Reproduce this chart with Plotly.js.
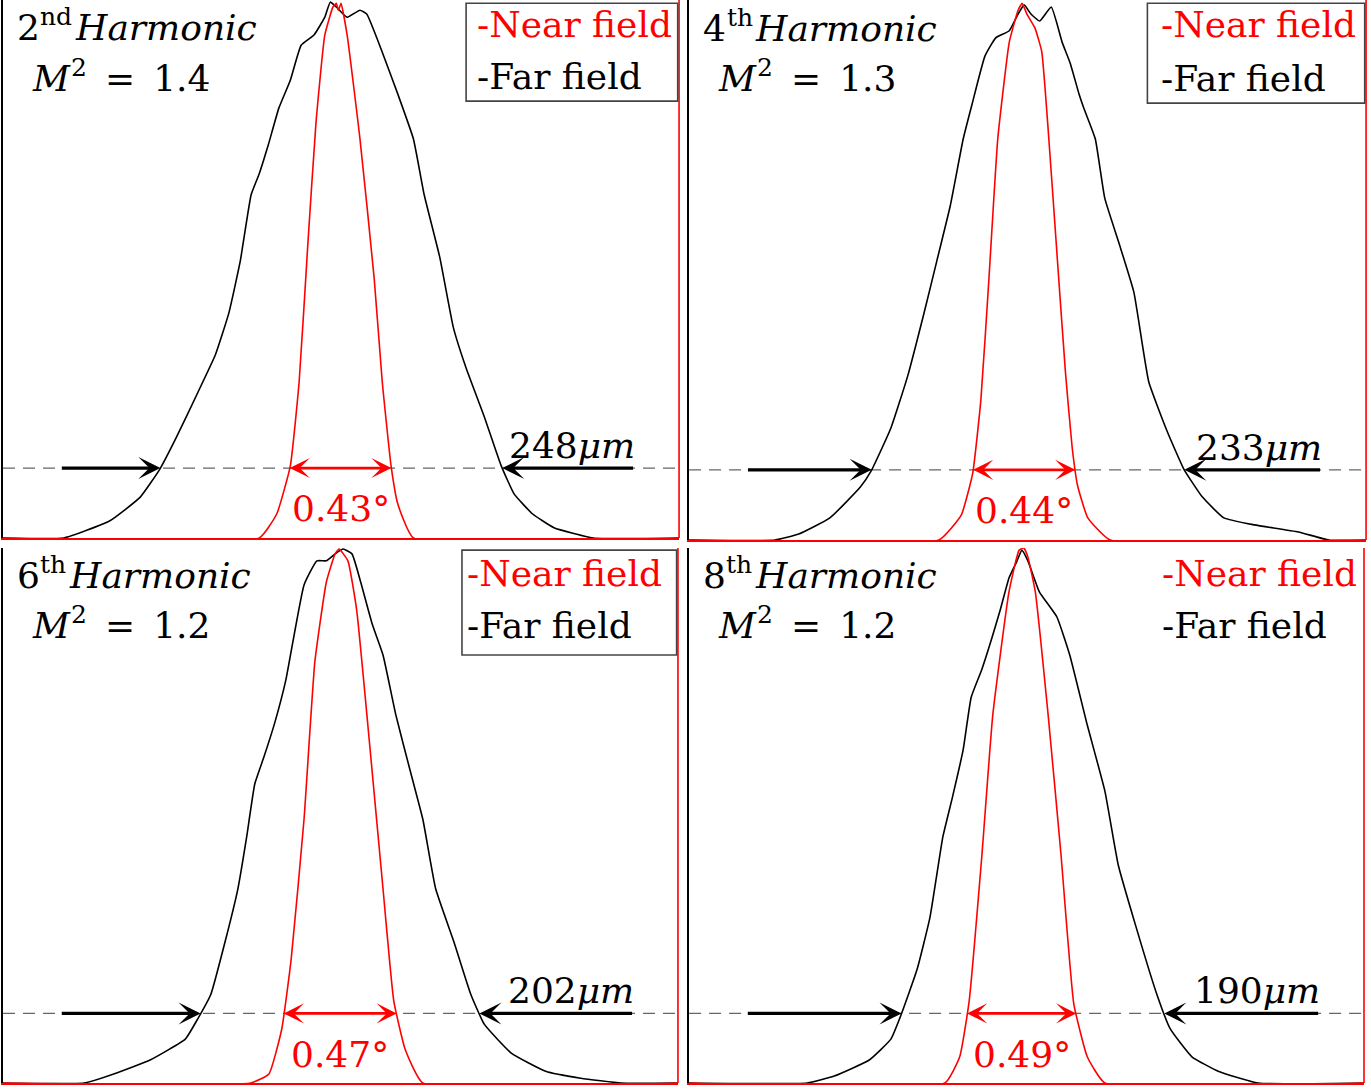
<!DOCTYPE html>
<html><head><meta charset="utf-8">
<script src="https://cdn.plot.ly/plotly-3.0.1.min.js"></script>
<style>html,body{margin:0;padding:0;background:#fff}</style>
</head><body><div id="chart" style="width:1371px;height:1089px"></div>
<script>
// ---- data: x = position across panel (0-100), y = normalised intensity ----
const harmonicNumbers = ['2', '4', '6', '8'];
const harmonicSuffixes = ['nd', 'th', 'th', 'th'];
const m2Values = ['1.4', '1.3', '1.2', '1.2'];
const farWidths = ['248', '233', '202', '190'];
const nearAngles = ['0.43', '0.44', '0.47', '0.49'];
const widthLevel = 0.13;

const far2 = [[0,0],[9.0,0],[15.8,0.032],[20.3,0.076],[23.2,0.128],[25.6,0.186],[28.8,0.270],[31.4,0.340],[33.4,0.418],[35.1,0.515],[36.7,0.638],[37.9,0.677],[39.2,0.729],[40.8,0.799],[42.5,0.851],[44.1,0.916],[46.0,0.935],[47.6,0.968],[48.4,0.996],[49.3,0.987],[50.9,0.968],[52.8,0.981],[53.8,0.974],[56.1,0.903],[58.4,0.825],[60.7,0.742],[62.3,0.638],[64.6,0.522],[66.6,0.392],[68.5,0.316],[71.2,0.225],[73.7,0.134],[75.6,0.082],[78.3,0.045],[81.5,0.019],[87.3,0],[100,0]];
const near2 = [[0,0],[37.9,0],[40.5,0.045],[42.5,0.134],[43.8,0.290],[45.1,0.548],[46.3,0.773],[47.6,0.935],[48.8,0.987],[49.3,0.994],[49.6,0.981],[50.0,0.994],[50.9,0.935],[52.8,0.742],[54.9,0.483],[56.1,0.290],[57.4,0.134],[58.4,0.063],[60.7,0],[100,0]];

const far4 = [[0,0],[12.7,0],[16.2,0.011],[20.8,0.041],[25.3,0.098],[26.9,0.128],[29.8,0.207],[32.3,0.304],[34.7,0.420],[36.6,0.517],[38.6,0.620],[40.5,0.743],[41.8,0.807],[43.7,0.896],[45.3,0.930],[47.3,0.943],[48.6,0.974],[49.5,0.991],[50.5,0.974],[51.8,0.961],[53.5,0.987],[55.1,0.922],[56.3,0.883],[57.6,0.826],[58.3,0.800],[60.0,0.743],[61.4,0.633],[63.5,0.550],[65.7,0.459],[67.9,0.293],[70.6,0.202],[73.1,0.131],[75.8,0.080],[79.0,0.041],[83.5,0.028],[90.0,0.015],[94.5,0],[100,0]];
const near4 = [[0,0],[36.9,0],[40.2,0.046],[41.9,0.124],[43.1,0.259],[44.3,0.485],[45.6,0.743],[47.3,0.922],[48.6,0.981],[49.2,0.994],[49.9,0.974],[51.1,0.948],[52.1,0.904],[53.1,0.750],[54.4,0.520],[55.6,0.310],[56.6,0.170],[57.4,0.100],[58.9,0.041],[62.2,0],[100,0]];

const far6 = [[0,0],[12.0,0],[16.4,0.017],[21.8,0.043],[27.0,0.082],[28.9,0.121],[30.8,0.166],[32.9,0.264],[34.8,0.363],[36.1,0.460],[37.3,0.559],[38.7,0.611],[40.3,0.675],[41.9,0.753],[44.6,0.931],[46.5,0.976],[47.9,0.976],[49.2,0.989],[50.4,0.998],[51.7,0.989],[53.0,0.936],[54.7,0.858],[56.3,0.800],[58.2,0.688],[60.3,0.585],[62.2,0.493],[64.1,0.363],[66.8,0.264],[69.3,0.166],[71.3,0.110],[75.3,0.056],[80.4,0.022],[85.6,0.009],[91.6,0],[100,0]];
const near6 = [[0,0],[36.7,0],[39.4,0.017],[41.3,0.101],[42.7,0.232],[44.6,0.493],[46.2,0.787],[47.9,0.936],[49.2,0.989],[49.8,0.998],[51.1,0.976],[52.4,0.884],[54.4,0.622],[56.3,0.363],[57.9,0.153],[59.6,0.062],[62.2,0],[100,0]];

const far8 = [[0,0],[17.5,0],[21.5,0.013],[26.7,0.043],[29.9,0.082],[31.4,0.127],[33.8,0.213],[35.7,0.310],[37.6,0.460],[39.0,0.533],[40.6,0.622],[41.8,0.721],[43.4,0.774],[46.1,0.884],[47.4,0.944],[48.6,0.976],[49.3,0.996],[50.2,0.976],[51.9,0.918],[54.5,0.871],[56.4,0.800],[59.0,0.669],[61.6,0.546],[63.6,0.407],[66.1,0.297],[69.3,0.166],[71.3,0.101],[74.5,0.049],[78.4,0.022],[84.3,0],[100,0]];
const near8 = [[0,0],[37.9,0],[40.1,0.049],[41.5,0.153],[43.4,0.428],[45.0,0.688],[47.4,0.918],[48.9,0.996],[49.6,1.0],[50.2,0.983],[51.3,0.918],[53.2,0.688],[55.1,0.428],[57.0,0.148],[59.0,0.049],[61.6,0],[100,0]];

const farSeries = [far2, far4, far6, far8];
const nearSeries = [near2, near4, near6, near8];

// ---- layout configuration (positions / styles) ----
const FONT = 'DejaVu Serif';
const FS = 36, FS_SUP = 25, SUP_SHIFT = 11;
const panels = [
  {xd:[0.0022,0.4953], yd:[0.5060,1.0], box:[0.685,0.812,0.998,0.994], lx:70.1, ly:[0.954,0.857]},
  {xd:[0.5026,0.9964], yd:[0.5041,1.0], box:[0.677,0.809,0.998,0.994], lx:69.7, ly:[0.954,0.854]},
  {xd:[0.0022,0.4945], yd:[0.0055,0.4968], box:[0.680,0.800,0.998,0.996], lx:68.7, ly:[0.953,0.856]},
  {xd:[0.5026,0.9949], yd:[0.0055,0.4968], box:null, lx:70.1, ly:[0.953,0.856]}
];

const mctx = document.createElement('canvas').getContext('2d');
function tw(text, size, italic){
  mctx.font = (italic ? 'italic ' : '') + size + 'px "' + FONT + '"';
  return mctx.measureText(text).width;
}

function crossings(pts, lvl){
  let left = null, right = null;
  for (let i = 1; i < pts.length; i++){
    const [x0,y0] = pts[i-1], [x1,y1] = pts[i];
    if (left === null && y0 < lvl && y1 >= lvl) left = x0 + (lvl-y0)/(y1-y0)*(x1-x0);
    if (y0 >= lvl && y1 < lvl) right = x0 + (y0-lvl)/(y0-y1)*(x1-x0);
  }
  return [left, right];
}

const traces = [];
const annotations = [];
const shapes = [];
const layout = {
  width: 1371, height: 1089,
  margin: {l:0, r:0, t:0, b:0},
  paper_bgcolor: '#fff', plot_bgcolor: '#fff',
  showlegend: false,
  font: {family: FONT, size: FS, color: '#000'}
};

panels.forEach((p, i) => {
  const s = i === 0 ? '' : String(i+1);
  const xr = 'x' + s, yr = 'y' + s;
  layout['xaxis' + s] = {domain: p.xd, range: [0,100], anchor: yr, showgrid:false, zeroline:false,
    showticklabels:false, ticks:'', showline:true, linecolor:'#ff0000', linewidth:1.6, fixedrange:true};
  layout['yaxis' + s] = {domain: p.yd, range: [0,1], anchor: xr, showgrid:false, zeroline:false,
    showticklabels:false, ticks:'', showline:true, linecolor:'#000', linewidth:1.6, fixedrange:true};

  const far = farSeries[i], near = nearSeries[i];
  traces.push({type:'scatter', mode:'lines', xaxis:xr, yaxis:yr,
    x: far.map(d=>d[0]), y: far.map(d=>d[1]), line:{color:'#000', width:1.6, shape:'spline', smoothing:0.4},
    cliponaxis:false, hoverinfo:'skip'});
  traces.push({type:'scatter', mode:'lines', xaxis:xr, yaxis:yr,
    x: near.map(d=>d[0]), y: near.map(d=>d[1]), line:{color:'#ff0000', width:1.6, shape:'spline', smoothing:0.4},
    cliponaxis:false, hoverinfo:'skip'});

  const [fL, fR] = crossings(far, widthLevel);
  const [nL, nR] = crossings(near, widthLevel);
  const nMid = (nL + nR) / 2;

  // right red frame line
  shapes.push({type:'line', xref: xr + ' domain', yref: yr + ' domain', x0:1, x1:1, y0:0, y1:1,
    line:{color:'#ff0000', width:1.6}});
  // dashed level line
  shapes.push({type:'line', xref: xr, yref: yr, x0:0, x1:100, y0:widthLevel, y1:widthLevel, layer:'below',
    line:{color:'#666', width:1.3, dash:'12px,8px'}});
  // legend box
  if (p.box){
    shapes.push({type:'rect', xref: xr + ' domain', yref: yr + ' domain',
      x0:p.box[0], y0:p.box[1], x1:p.box[2], y1:p.box[3], line:{color:'#444', width:1.6}, fillcolor:'rgba(0,0,0,0)'});
  }

  const txt = (text, x, y, o) => {
    o = o || {};
    return {text, x, y, xref: xr, yref: yr, xanchor: o.xanchor || 'left', yanchor:'middle',
      xshift: o.dx || 0, yshift: o.dy || 0, showarrow:false, borderpad:0, borderwidth:0,
      font:{family: FONT, size: o.size || FS, color: o.color || '#000', style: o.italic ? 'italic' : 'normal'}};
  };

  // "2nd Harmonic"
  const wNum = tw(harmonicNumbers[i], FS), wSuf = tw(harmonicSuffixes[i], FS_SUP);
  annotations.push(txt(harmonicNumbers[i], 2.0, 0.948));
  annotations.push(txt(harmonicSuffixes[i], 2.0, 0.948, {size: FS_SUP, dx: wNum + 1, dy: SUP_SHIFT}));
  annotations.push(txt('Harmonic', 2.0, 0.948, {italic: true, dx: wNum + wSuf + 3}));
  // "M^2 = 1.4"
  const wM = tw('M', FS, true), w2 = tw('2', FS_SUP), wGap = tw('\u2002', FS);
  annotations.push(txt('M', 4.3, 0.855, {italic: true}));
  annotations.push(txt('2', 4.3, 0.855, {size: FS_SUP, dx: wM + 2, dy: SUP_SHIFT}));
  annotations.push(txt('=\u2002' + m2Values[i], 4.3, 0.855, {dx: wM + w2 + wGap + 2}));

  annotations.push(txt('-Near field', p.lx, p.ly[0], {color: '#ff0000'}));
  annotations.push(txt('-Far field', p.lx, p.ly[1]));
  annotations.push(txt(farWidths[i] + '<i>\u03bcm</i>', 84.2, 0.172, {xanchor: 'center'}));
  annotations.push(txt(nearAngles[i] + '\u00b0', nMid, 0.054, {xanchor: 'center', color: '#ff0000'}));

  const arrow = (tipX, tailX, color, w, size, both) => ({text:'', x: tipX, y: widthLevel, ax: tailX, ay: widthLevel,
    xref: xr, yref: yr, axref: xr, ayref: yr, showarrow:true, arrowhead:3, arrowsize:size, arrowwidth:w,
    arrowcolor: color, standoff:0, startstandoff:0, borderpad:0, borderwidth:0,
    arrowside: both ? 'end+start' : 'end', startarrowhead:3, startarrowsize:size});
  annotations.push(arrow(fL, 8.7, '#000', 3.2, 1.15, false));
  annotations.push(arrow(fR, 93.2, '#000', 3.2, 1.15, false));
  annotations.push(arrow(nR, nL, '#ff0000', 2.8, 1.2, true));
});

layout.annotations = annotations;
layout.shapes = shapes;
Plotly.newPlot('chart', traces, layout, {staticPlot:true, displayModeBar:false});
</script>
</body></html>
